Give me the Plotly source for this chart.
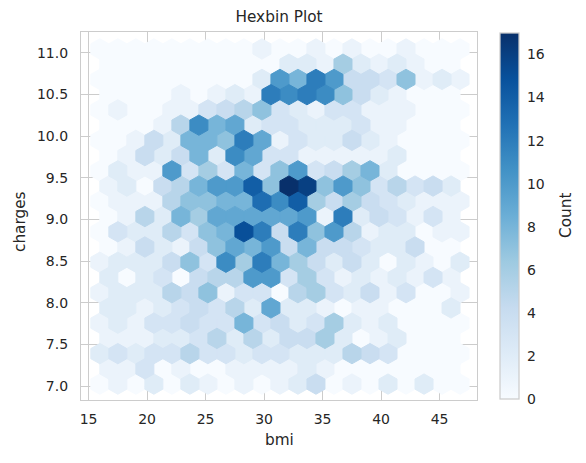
import plotly.graph_objects as go
from plotly.colors import sequential, sample_colorscale

# hexbin grid (bmi on x, log charges on y), gridsize 20 like matplotlib
BMI_MIN, BMI_MAX = 15.96, 46.75
LOG_MIN, LOG_MAX = 7.0228, 11.0444
NX, NY = 20, 11
VMAX = 17

# counts per hex row, bottom row first
# even rows: 21 cells (lattice 1), odd rows: 20 cells shifted half a cell (lattice 2)
row_00 = [0, 1, 0, 2, 0, 2, 1, 0, 1, 0, 1, 2, 4, 0, 1, 0, 2, 0, 2, 0, 0]
row_01 = [1, 1, 3, 0, 1, 0, 0, 1, 1, 1, 1, 2, 1, 0, 0, 0, 0, 0, 0, 0]
row_02 = [2, 3, 2, 3, 3, 5, 3, 3, 2, 3, 3, 2, 2, 2, 5, 4, 3, 0, 0, 0, 0]
row_03 = [1, 1, 1, 2, 2, 3, 5, 2, 5, 2, 4, 4, 6, 2, 0, 1, 2, 0, 0, 0]
row_04 = [1, 2, 1, 3, 3, 4, 3, 3, 8, 3, 4, 2, 3, 6, 2, 1, 2, 0, 0, 0, 0]
row_05 = [2, 2, 1, 2, 3, 4, 3, 5, 2, 9, 2, 2, 1, 0, 1, 1, 0, 0, 0, 2]
row_06 = [1, 2, 2, 2, 5, 4, 7, 1, 3, 3, 0, 5, 6, 3, 2, 4, 1, 3, 0, 0, 1]
row_07 = [2, 0, 2, 3, 0, 4, 5, 5, 10, 10, 3, 6, 3, 1, 2, 1, 2, 1, 3, 1]
row_08 = [1, 2, 2, 2, 4, 7, 3, 11, 6, 12, 8, 6, 4, 2, 4, 2, 0, 2, 1, 0, 2]
row_09 = [0, 1, 4, 2, 1, 4, 7, 9, 8, 10, 4, 8, 4, 4, 3, 2, 2, 4, 0, 0]
row_10 = [0, 3, 2, 2, 5, 3, 7, 8, 15, 12, 4, 12, 7, 10, 5, 1, 2, 2, 0, 1, 1]
row_11 = [0, 1, 5, 2, 8, 6, 9, 9, 9, 9, 9, 10, 1, 12, 2, 4, 3, 1, 3, 1]
row_12 = [0, 1, 1, 1, 5, 7, 7, 8, 8, 13, 11, 14, 6, 4, 6, 4, 3, 2, 1, 1, 1]
row_13 = [1, 2, 0, 4, 5, 8, 10, 10, 14, 7, 17, 16, 7, 10, 7, 3, 5, 3, 4, 2]
row_14 = [0, 2, 1, 1, 10, 3, 6, 3, 8, 3, 7, 10, 3, 4, 6, 8, 2, 0, 0, 0, 0]
row_15 = [0, 1, 4, 2, 4, 8, 2, 11, 9, 3, 3, 1, 1, 1, 1, 1, 2, 0, 0, 0]
row_16 = [0, 0, 1, 4, 2, 8, 8, 7, 12, 9, 1, 3, 2, 2, 4, 2, 1, 0, 0, 0, 0]
row_17 = [0, 0, 0, 1, 5, 11, 8, 9, 2, 3, 3, 2, 2, 2, 3, 1, 1, 0, 0, 0]
row_18 = [0, 1, 0, 0, 1, 1, 3, 4, 5, 7, 3, 2, 1, 3, 3, 1, 1, 1, 0, 0, 0]
row_19 = [0, 0, 0, 0, 1, 0, 1, 2, 1, 12, 11, 12, 11, 7, 4, 2, 1, 0, 0, 0]
row_20 = [0, 0, 0, 0, 0, 0, 0, 0, 0, 2, 10, 8, 12, 10, 4, 4, 3, 7, 1, 2, 1]
row_21 = [0, 0, 0, 0, 0, 0, 0, 0, 0, 0, 2, 2, 1, 6, 2, 1, 2, 1, 0, 0]
row_22 = [0, 0, 0, 0, 0, 0, 0, 0, 0, 1, 0, 0, 1, 0, 1, 0, 0, 1, 0, 0, 0]

rows = [row_00, row_01, row_02, row_03, row_04, row_05, row_06, row_07,
        row_08, row_09, row_10, row_11, row_12, row_13, row_14, row_15,
        row_16, row_17, row_18, row_19, row_20, row_21, row_22]

x_ticks = [15, 20, 25, 30, 35, 40, 45]
y_ticks = [7.0, 7.5, 8.0, 8.5, 9.0, 9.5, 10.0, 10.5, 11.0]
cbar_ticks = [0, 2, 4, 6, 8, 10, 12, 14, 16]

BLUES = sequential.Blues
GRID = '#cccccc'
TEXT = '#262626'

sx = (BMI_MAX - BMI_MIN) / NX
sy = (LOG_MAX - LOG_MIN) / NY

# hexagon corners, same shape as matplotlib hexbin
HEX = [(0.5, -0.5), (0.5, 0.5), (0, 1), (-0.5, 0.5), (-0.5, -0.5), (0, -1), (0.5, -0.5)]

# group polygons by count -> one filled trace per count
polys = {}
for r, row in enumerate(rows):
    cy = LOG_MIN + r * sy / 2
    shift = 0.0 if r % 2 == 0 else 0.5
    for i, c in enumerate(row):
        cx = BMI_MIN + (i + shift) * sx
        xs, ys = polys.setdefault(c, ([], []))
        for hx, hy in HEX:
            xs.append(cx + hx * sx)
            ys.append(cy + hy * sy / 3)
        xs.append(None)
        ys.append(None)

fig = go.Figure()

# invisible trace only for the colorbar
fig.add_trace(go.Scatter(
    x=[BMI_MIN, BMI_MIN], y=[LOG_MIN, LOG_MIN],
    mode='markers',
    marker=dict(
        size=1, opacity=0,
        color=[0, VMAX], cmin=0, cmax=VMAX,
        colorscale=BLUES,
        showscale=True,
        colorbar=dict(
            x=(500 - 81) / 396, xanchor='left', xpad=0,
            y=(400 - 216) / 368, yanchor='middle', ypad=0,
            lenmode='pixels', len=366,
            thickness=19,
            outlinecolor=GRID, outlinewidth=1.25,
            tickvals=cbar_ticks,
            ticks='outside', ticklen=5, tickcolor='rgba(0,0,0,0)',
            tickfont=dict(size=14, color=TEXT),
        ),
    ),
    hoverinfo='skip', showlegend=False,
))

for c in sorted(polys):
    xs, ys = polys[c]
    col = sample_colorscale(BLUES, [c / VMAX])[0]
    fig.add_trace(go.Scatter(
        x=xs, y=ys,
        mode='lines', fill='toself',
        fillcolor=col,
        line=dict(color=col, width=1),
        name=str(c),
        hoverinfo='skip', showlegend=False,
    ))

fig.update_layout(
    width=586, height=463,
    margin=dict(l=81, r=109, t=32, b=63),
    paper_bgcolor='white', plot_bgcolor='white',
    font=dict(family='DejaVu Sans', size=14, color=TEXT),
    title=dict(
        text='Hexbin Plot',
        x=(81 + 477) / 2 / 586, xanchor='center',
        y=1 - 17 / 463, yanchor='middle',
        font=dict(size=15.3, color=TEXT),
    ),
    xaxis=dict(
        range=[14.35, 48.2],
        tickvals=x_ticks,
        showgrid=True, gridcolor=GRID, gridwidth=1,
        zeroline=False,
        showline=True, mirror=True, linecolor=GRID, linewidth=1.25,
        ticks='outside', ticklen=6, tickcolor='rgba(0,0,0,0)',
        tickfont=dict(size=14, color=TEXT),
    ),
    yaxis=dict(
        range=[6.832, 11.248],
        tickvals=y_ticks,
        ticktext=['%.1f' % v for v in y_ticks],
        showgrid=True, gridcolor=GRID, gridwidth=1,
        zeroline=False,
        showline=True, mirror=True, linecolor=GRID, linewidth=1.25,
        ticks='outside', ticklen=9, tickcolor='rgba(0,0,0,0)',
        tickfont=dict(size=14, color=TEXT),
    ),
    annotations=[
        dict(text='bmi', xref='paper', yref='paper',
             x=0.5, y=(400 - 440) / 368, xanchor='center', yanchor='middle',
             showarrow=False, font=dict(size=15.3, color=TEXT)),
        dict(text='charges', xref='paper', yref='paper',
             x=(20 - 81) / 396, y=(400 - 222) / 368, xanchor='center', yanchor='middle',
             textangle=-90, showarrow=False, font=dict(size=15.3, color=TEXT)),
        dict(text='Count', xref='paper', yref='paper',
             x=(566 - 81) / 396, y=(400 - 216) / 368, xanchor='center', yanchor='middle',
             textangle=-90, showarrow=False, font=dict(size=15.3, color=TEXT)),
    ],
)

# page body has a default 8px margin, drop it so the figure sits at 0,0
fig.write_html("out.html", config={'displayModeBar': False},
               post_script="document.body.style.margin='0';")
